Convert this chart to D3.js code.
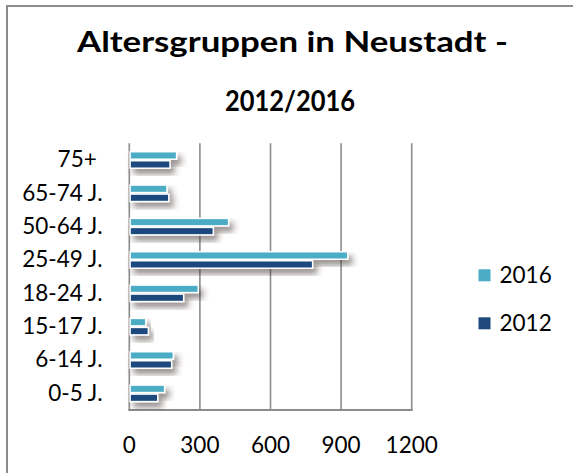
<!DOCTYPE html>
<html lang="de">
<head>
    <meta charset="UTF-8">
    <script src="https://d3js.org/d3.v7.min.js"></script>
    <style>
        body {
            margin: 0;
            font-family: Lato, "Open Sans", sans-serif;
            background: white;
        }
        .label {
            font-size: 22.5px;
            fill: black;
        }
        .title {
            font-size: 28px;
            font-weight: bold;
            fill: black;
        }
    </style>
</head>
<body>
    <div id="chart"></div>

    <script>
        // data
        const categories = ["75+\u00a0", "65-74 J.", "50-64 J.", "25-49 J.", "18-24 J.", "15-17 J.", "6-14 J.", "0-5 J."];
        const seriesNames = ["2016", "2012"];
        const values2016 = [201, 160, 422, 928, 293, 70, 187, 150];
        const values2012 = [173, 168, 357, 779, 231, 81, 180, 121];
        const xTicks = [0, 300, 600, 900, 1200];
        const colors = {"2016": "#4bacc6", "2012": "#1f497d"};

        const W = 573, H = 473;
        const plot = {left: 129.3, right: 411.7, top: 143.3, bottom: 410};

        const svg = d3.select("#chart")
            .append("svg")
            .attr("width", W)
            .attr("height", H);

        // shadow for bars
        const defs = svg.append("defs");
        const f = defs.append("filter").attr("id", "shadow")
            .attr("x", "-20%").attr("y", "-60%").attr("width", "150%").attr("height", "260%");
        f.append("feGaussianBlur").attr("in", "SourceAlpha").attr("stdDeviation", 3).attr("result", "blur");
        f.append("feOffset").attr("dx", 4).attr("dy", 5).attr("result", "off");
        f.append("feFlood").attr("flood-color", "#3b2c2a").attr("flood-opacity", 0.55);
        f.append("feComposite").attr("in2", "off").attr("operator", "in").attr("result", "sh");
        const m = f.append("feMerge");
        m.append("feMergeNode").attr("in", "sh");
        m.append("feMergeNode").attr("in", "SourceGraphic");

        // outer border (runs off the canvas right/bottom)
        svg.append("rect")
            .attr("x", 7).attr("y", 6)
            .attr("width", W + 20).attr("height", H + 20)
            .attr("fill", "white")
            .attr("stroke", "#8c8c8c")
            .attr("stroke-width", 2);

        // title
        const title = svg.append("g").attr("class", "title");
        title.append("text")
            .attr("x", 292.5).attr("y", 52)
            .attr("text-anchor", "middle")
            .attr("textLength", 431).attr("lengthAdjust", "spacingAndGlyphs")
            .text("Altersgruppen in Neustadt -");
        title.append("text")
            .attr("x", 290).attr("y", 110.5)
            .attr("text-anchor", "middle")
            .attr("textLength", 130).attr("lengthAdjust", "spacingAndGlyphs")
            .text("2012/2016");

        const x = d3.scaleLinear()
            .domain([0, 1200])
            .range([plot.left, plot.right]);

        const y = d3.scaleBand()
            .domain(categories)
            .range([plot.top, plot.bottom])
            .paddingInner(0.46)
            .paddingOuter(0.23);

        const ySub = d3.scaleBand()
            .domain(seriesNames)
            .range([0, y.bandwidth()]);

        // grid lines
        svg.append("g")
            .selectAll("line")
            .data(xTicks.slice(1))
            .enter()
            .append("line")
            .attr("x1", d => x(d)).attr("x2", d => x(d))
            .attr("y1", plot.top).attr("y2", plot.bottom)
            .attr("stroke", "#8c8c8c")
            .attr("stroke-width", 1.6);

        // axis lines
        svg.append("line")
            .attr("x1", plot.left - 1).attr("x2", plot.right + 1)
            .attr("y1", plot.bottom).attr("y2", plot.bottom)
            .attr("stroke", "#8c8c8c").attr("stroke-width", 2);
        svg.append("line")
            .attr("x1", plot.left).attr("x2", plot.left)
            .attr("y1", plot.top).attr("y2", plot.bottom)
            .attr("stroke", "#8c8c8c").attr("stroke-width", 1.6);

        // bars
        const rows = categories.map((c, i) => ({cat: c, "2016": values2016[i], "2012": values2012[i]}));
        const group = svg.append("g")
            .selectAll("g")
            .data(rows)
            .enter()
            .append("g")
            .attr("transform", d => `translate(0,${y(d.cat)})`);

        group.selectAll("rect")
            .data(d => seriesNames.map(s => ({s, v: d[s]})))
            .enter()
            .append("rect")
            .attr("x", x(0) + 0.8)
            .attr("y", d => ySub(d.s) + 0.75)
            .attr("width", d => x(d.v) - x(0) - 0.8)
            .attr("height", ySub.bandwidth() - 1.5)
            .attr("fill", d => colors[d.s])
            .attr("stroke", "white")
            .attr("stroke-width", 1.5)
            .attr("filter", "url(#shadow)");

        // category labels
        svg.append("g")
            .selectAll("text")
            .data(categories)
            .enter()
            .append("text")
            .attr("class", "label")
            .attr("x", 102.5)
            .attr("y", d => y(d) + y.bandwidth() / 2 + 7.4)
            .attr("text-anchor", "end")
            .text(d => d);

        // x tick labels
        svg.append("g")
            .selectAll("text")
            .data(xTicks)
            .enter()
            .append("text")
            .attr("class", "label")
            .attr("x", d => x(d))
            .attr("y", 452.7)
            .attr("text-anchor", "middle")
            .text(d => d);

        // legend
        const legend = svg.append("g")
            .selectAll("g")
            .data(seriesNames)
            .enter()
            .append("g")
            .attr("transform", (d, i) => `translate(478.5,${269.3 + i * 48})`);
        legend.append("rect")
            .attr("width", 12).attr("height", 12)
            .attr("fill", d => colors[d]);
        legend.append("text")
            .attr("class", "label")
            .attr("x", 21)
            .attr("y", 13.4)
            .text(d => d);
    </script>
</body>
</html>
